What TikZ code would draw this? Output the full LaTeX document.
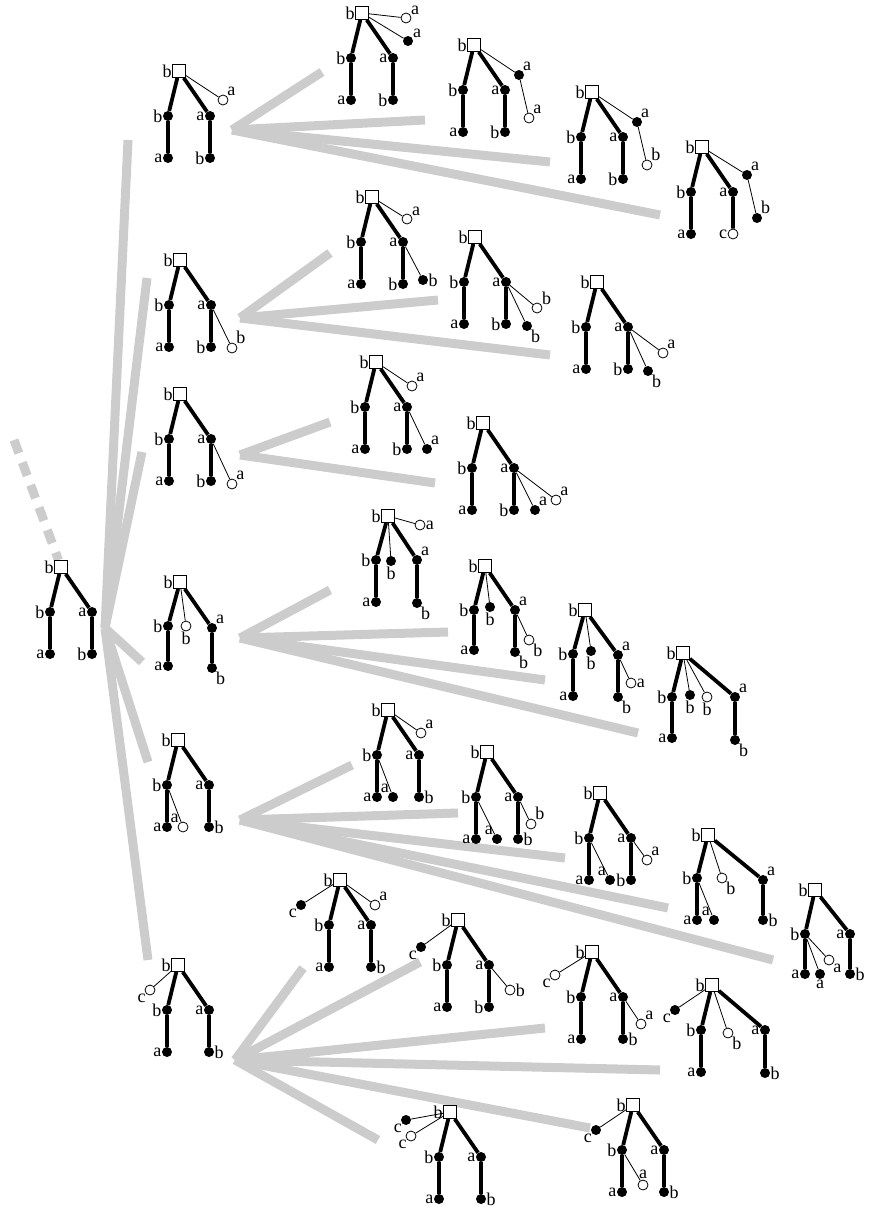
\documentclass[tikz,border=0pt]{standalone}
\usepackage{fontspec}
\setmainfont{Liberation Serif}
\usetikzlibrary{backgrounds}
\tikzset{
    sq/.style={rectangle,draw,fill=white,minimum size=13pt,inner sep=0pt,line width=0.8pt},
    fd/.style={circle,fill=black,minimum size=10pt,inner sep=0pt},
    od/.style={circle,draw,fill=white,minimum size=10pt,inner sep=0pt,line width=0.8pt},
    lb/.style={font=\fontsize{18}{18}\selectfont,inner sep=0.3pt},
    thk/.style={line width=3.8pt},
    thn/.style={line width=0.8pt},
    gr/.style={draw=gray!40,line width=9pt},
}
% square with two thick branches of two dots each
\newcommand{\stdtree}[4][left]{%
\begin{scope}[shift={(#3,#4)}]
\node[sq,label={[lb]left:b}] (#2s) at (0,0) {};
\node[fd,label={[lb]left:b}] (#2l) at (-11,45) {};
\node[fd,label={[lb]left:a}] (#2r) at (31,45) {};
\node[fd,label={[lb]left:a}] (#2ll) at (-11,87) {};
\node[fd,label={[lb]#1:b}] (#2rl) at (31,87) {};
\draw[thk] (#2s) -- (#2l) -- (#2ll) (#2s) -- (#2r) -- (#2rl);
\end{scope}}

\begin{document}
\begin{tikzpicture}[x=1pt,y=-1pt,label distance=0pt]
\useasboundingbox (0,0) rectangle (874,1207);

% root
\stdtree{r}{61}{567}
\coordinate (rup) at (14,440);
\coordinate (rout) at (105,628);

% ---- first child ----
\stdtree{p1}{179}{71}
\node[od,label={[lb]above right:a}] (p1x) at (223,100) {};
\draw[thn] (p1s) -- (p1x);
\coordinate (p1in) at (128,140);
\coordinate (p1out) at (232,130);

\stdtree{p1a}{362}{13}
\node[od,label={[lb]30:a}] (p1ax) at (406,18) {};
\node[fd,label={[lb]30:a}] (p1ay) at (408,41) {};
\draw[thn] (p1as) -- (p1ax) (p1as) -- (p1ay);
\coordinate (p1ain) at (322,72);

\stdtree{p1b}{474}{45}
\node[fd,label={[lb]above right:a}] (p1bx) at (519,75) {};
\node[od,label={[lb]above right:a}] (p1by) at (529,118) {};
\draw[thn] (p1bs) -- (p1bx) -- (p1by);
\coordinate (p1bin) at (425,120);

\stdtree{p1c}{592}{92}
\node[fd,label={[lb]above right:a}] (p1cx) at (637,122) {};
\node[od,label={[lb]above right:b}] (p1cy) at (647,165) {};
\draw[thn] (p1cs) -- (p1cx) -- (p1cy);
\coordinate (p1cin) at (550,162);

\node[sq,label={[lb]left:b}] (p1ds) at (702,147) {};
\node[fd,label={[lb]left:b}] (p1dl) at (691,192) {};
\node[fd,label={[lb]left:a}] (p1dr) at (733,192) {};
\node[fd,label={[lb]left:a}] (p1dll) at (691,234) {};
\node[od,label={[lb]left:c}] (p1drl) at (733,234) {};
\node[fd,label={[lb]above right:a}] (p1dx) at (747,175) {};
\node[fd,label={[lb]above right:b}] (p1dy) at (757,218) {};
\draw[thk] (p1ds) -- (p1dl) -- (p1dll) (p1ds) -- (p1dr) -- (p1drl);
\draw[thn] (p1ds) -- (p1dx) -- (p1dy);
\coordinate (p1din) at (660,215);

% ---- second child ----
\stdtree{p2}{180}{260}
\node[od,label={[lb]above right:b}] (p2x) at (232,348) {};
\draw[thn] (p2r) -- (p2x);
\coordinate (p2in) at (147,278);
\coordinate (p2out) at (240,318);

\stdtree{p2a}{372}{197}
\node[od,label={[lb]30:a}] (p2ax) at (407,219) {};
\node[fd,label={[lb]right:b}] (p2ay) at (423,280) {};
\draw[thn] (p2as) -- (p2ax) (p2ar) -- (p2ay);
\coordinate (p2ain) at (330,253);

\stdtree{p2b}{475}{237}
\node[od,label={[lb]30:b}] (p2bx) at (537,308) {};
\node[fd,label={[lb]below right:b}] (p2by) at (527,326) {};
\draw[thn] (p2br) -- (p2bx) (p2br) -- (p2by);
\coordinate (p2bin) at (438,300);

\stdtree{p2c}{597}{282}
\node[od,label={[lb]above right:a}] (p2cx) at (663,353) {};
\node[fd,label={[lb]below right:b}] (p2cy) at (648,371) {};
\draw[thn] (p2cr) -- (p2cx) (p2cr) -- (p2cy);
\coordinate (p2cin) at (550,355);

% ---- third child ----
\stdtree{p3}{180}{394}
\node[od,label={[lb]above right:a}] (p3x) at (232,484) {};
\draw[thn] (p3r) -- (p3x);
\coordinate (p3in) at (142,452);
\coordinate (p3out) at (240,455);

\stdtree{p3a}{376}{362}
\node[od,label={[lb]above right:a}] (p3ax) at (412,386) {};
\node[fd,label={[lb]above right:a}] (p3ay) at (427,449) {};
\draw[thn] (p3as) -- (p3ax) (p3ar) -- (p3ay);
\coordinate (p3ain) at (330,422);

\stdtree{p3b}{483}{423}
\node[fd,label={[lb]above right:a}] (p3bx) at (535,510) {};
\node[od,label={[lb]above right:a}] (p3by) at (556,500) {};
\draw[thn] (p3br) -- (p3bx) (p3br) -- (p3by);
\coordinate (p3bin) at (435,483);

% ---- fourth child ----
\node[sq,label={[lb]left:b}] (p4s) at (180,582) {};
\node[fd,label={[lb]left:b}] (p4l) at (168,626) {};
\node[od,label={[lb]below:b}] (p4m) at (186,626) {};
\node[fd,label={[lb]above right:a}] (p4r) at (212,628) {};
\node[fd,label={[lb]left:a}] (p4ll) at (168,666) {};
\node[fd,label={[lb]below right:b}] (p4rl) at (212,668) {};
\draw[thk] (p4s) -- (p4l) -- (p4ll) (p4s) -- (p4r) -- (p4rl);
\draw[thn] (p4s) -- (p4m);
\coordinate (p4in) at (142,662);
\coordinate (p4out) at (240,638);

\node[sq,label={[lb]left:b}] (p4as) at (388,516) {};
\node[fd,label={[lb]left:b}] (p4al) at (376,560) {};
\node[fd,label={[lb]below:b}] (p4am) at (391,561) {};
\node[fd,label={[lb]above right:a}] (p4ar) at (417,560) {};
\node[fd,label={[lb]left:a}] (p4all) at (376,602) {};
\node[fd,label={[lb]below right:b}] (p4arl) at (417,603) {};
\node[od,label={[lb]right:a}] (p4ax) at (420,525) {};
\draw[thk] (p4as) -- (p4al) -- (p4all) (p4as) -- (p4ar) -- (p4arl);
\draw[thn] (p4as) -- (p4am) (p4as) -- (p4ax);
\coordinate (p4ain) at (330,590);

\node[sq,label={[lb]left:b}] (p4bs) at (485,566) {};
\node[fd,label={[lb]left:b}] (p4bl) at (474,610) {};
\node[fd,label={[lb]below:b}] (p4bm) at (490,607) {};
\node[fd,label={[lb]above right:a}] (p4br) at (515,610) {};
\node[fd,label={[lb]left:a}] (p4bll) at (474,650) {};
\node[fd,label={[lb]below right:b}] (p4brl) at (515,652) {};
\node[od,label={[lb]below right:b}] (p4bx) at (529,640) {};
\draw[thk] (p4bs) -- (p4bl) -- (p4bll) (p4bs) -- (p4br) -- (p4brl);
\draw[thn] (p4bs) -- (p4bm) (p4br) -- (p4bx);
\coordinate (p4bin) at (448,632);

\node[sq,label={[lb]left:b}] (p4cs) at (585,610) {};
\node[fd,label={[lb]left:b}] (p4cl) at (573,654) {};
\node[fd,label={[lb]below:b}] (p4cm) at (591,651) {};
\node[fd,label={[lb]above right:a}] (p4cr) at (618,655) {};
\node[fd,label={[lb]left:a}] (p4cll) at (573,696) {};
\node[fd,label={[lb]below right:b}] (p4crl) at (618,697) {};
\node[od,label={[lb]right:a}] (p4cx) at (631,683) {};
\draw[thk] (p4cs) -- (p4cl) -- (p4cll) (p4cs) -- (p4cr) -- (p4crl);
\draw[thn] (p4cs) -- (p4cm) (p4cr) -- (p4cx);
\coordinate (p4cin) at (545,680);

\node[sq,label={[lb]left:b}] (p4ds) at (683,653) {};
\node[fd,label={[lb]left:b}] (p4dl) at (672,697) {};
\node[fd,label={[lb]below:b}] (p4dm) at (690,695) {};
\node[od,label={[lb]below:b}] (p4dn) at (707,697) {};
\node[fd,label={[lb]above right:a}] (p4dr) at (735,697) {};
\node[fd,label={[lb]left:a}] (p4dll) at (672,738) {};
\node[fd,label={[lb]below right:b}] (p4drl) at (735,740) {};
\draw[thk] (p4ds) -- (p4dl) -- (p4dll) (p4ds) -- (p4dr) -- (p4drl);
\draw[thn] (p4ds) -- (p4dm) (p4ds) -- (p4dn);
\coordinate (p4din) at (638,733);

% ---- fifth child ----
\stdtree[right]{p5}{178}{740}
\node[od,label={[lb]above left:a}] (p5x) at (183,827) {};
\draw[thn] (p5l) -- (p5x);
\coordinate (p5in) at (148,762);
\coordinate (p5out) at (240,820);

\stdtree[right]{p5a}{388}{710}
\node[od,label={[lb]above right:a}] (p5ax) at (421,733) {};
\node[fd,label={[lb]above left:a}] (p5ay) at (393,797) {};
\draw[thn] (p5as) -- (p5ax) (p5al) -- (p5ay);
\coordinate (p5ain) at (352,765);

\stdtree[right]{p5b}{487}{752}
\node[fd,label={[lb]above left:a}] (p5bx) at (497,839) {};
\node[od,label={[lb]above right:b}] (p5by) at (531,824) {};
\draw[thn] (p5bl) -- (p5bx) (p5br) -- (p5by);
\coordinate (p5bin) at (458,813);

\stdtree{p5c}{600}{793}
\node[fd,label={[lb]above left:a}] (p5cx) at (610,880) {};
\node[od,label={[lb]above right:a}] (p5cy) at (647,860) {};
\draw[thn] (p5cl) -- (p5cx) (p5cr) -- (p5cy);
\coordinate (p5cin) at (565,858);

\node[sq,label={[lb]left:b}] (p5ds) at (708,835) {};
\node[fd,label={[lb]left:b}] (p5dl) at (697,878) {};
\node[od,label={[lb]below right:b}] (p5dm) at (722,878) {};
\node[fd,label={[lb]above right:a}] (p5dr) at (763,880) {};
\node[fd,label={[lb]left:a}] (p5dll) at (697,920) {};
\node[fd,label={[lb]above left:a}] (p5dx) at (714,920) {};
\node[fd,label={[lb]right:b}] (p5drl) at (763,920) {};
\draw[thk] (p5ds) -- (p5dl) -- (p5dll) (p5ds) -- (p5dr) -- (p5drl);
\draw[thn] (p5ds) -- (p5dm) (p5dl) -- (p5dx);
\coordinate (p5din) at (668,908);

\node[sq,label={[lb]left:b}] (p5es) at (815,890) {};
\node[fd,label={[lb]left:b}] (p5el) at (805,934) {};
\node[fd,label={[lb]left:a}] (p5er) at (850,934) {};
\node[fd,label={[lb]left:a}] (p5ell) at (805,974) {};
\node[fd,label={[lb]below:a}] (p5ex) at (820,974) {};
\node[od,label={[lb]below right:a}] (p5ey) at (829,960) {};
\node[fd,label={[lb]right:b}] (p5erl) at (850,974) {};
\draw[thk] (p5es) -- (p5el) -- (p5ell) (p5es) -- (p5er) -- (p5erl);
\draw[thn] (p5el) -- (p5ex) (p5el) -- (p5ey);
\coordinate (p5ein) at (773,960);

% ---- sixth child ----
\stdtree[right]{p6}{178}{965}
\node[od,label={[lb]below left:c}] (p6x) at (150,990) {};
\draw[thn] (p6s) -- (p6x);
\coordinate (p6in) at (148,960);
\coordinate (p6out) at (235,1060);

\stdtree[right]{p6a}{340}{880}
\node[fd,label={[lb]below left:c}] (p6ax) at (301,905) {};
\node[od,label={[lb]above right:a}] (p6ay) at (375,905) {};
\draw[thn] (p6as) -- (p6ax) (p6as) -- (p6ay);
\coordinate (p6ain) at (303,968);

\stdtree{p6b}{458}{920}
\node[fd,label={[lb]below left:c}] (p6bx) at (421,947) {};
\node[od,label={[lb]right:b}] (p6by) at (510,990) {};
\draw[thn] (p6bs) -- (p6bx) (p6br) -- (p6by);
\coordinate (p6bin) at (420,962);

\stdtree[right]{p6c}{592}{952}
\node[od,label={[lb]below left:c}] (p6cx) at (555,975) {};
\node[od,label={[lb]above right:a}] (p6cy) at (641,1024) {};
\draw[thn] (p6cs) -- (p6cx) (p6cr) -- (p6cy);
\coordinate (p6cin) at (545,1028);

\node[sq,label={[lb]left:b}] (p6ds) at (712,985) {};
\node[fd,label={[lb]below left:c}] (p6dx) at (675,1010) {};
\node[fd,label={[lb]left:b}] (p6dl) at (701,1030) {};
\node[od,label={[lb]below right:b}] (p6dm) at (728,1033) {};
\node[fd,label={[lb]left:a}] (p6dr) at (765,1030) {};
\node[fd,label={[lb]left:a}] (p6dll) at (701,1072) {};
\node[fd,label={[lb]right:b}] (p6drl) at (765,1073) {};
\draw[thk] (p6ds) -- (p6dl) -- (p6dll) (p6ds) -- (p6dr) -- (p6drl);
\draw[thn] (p6ds) -- (p6dx) (p6ds) -- (p6dm);
\coordinate (p6din) at (660,1070);

\stdtree[right]{p6e}{450}{1112}
\node[fd,label={[lb]below left:c}] (p6ex) at (406,1120) {};
\node[od,label={[lb]below left:c}] (p6ey) at (411,1136) {};
\draw[thn] (p6es) -- (p6ex) (p6es) -- (p6ey);
\coordinate (p6ein) at (378,1140);

\stdtree[right]{p6f}{633}{1105}
\node[fd,label={[lb]below left:c}] (p6fx) at (596,1130) {};
\node[od,label={[lb]above:a}] (p6fy) at (643,1185) {};
\draw[thn] (p6fs) -- (p6fx) (p6fl) -- (p6fy);
\coordinate (p6fin) at (590,1128);

% ---- grey links ----
\begin{scope}[on background layer]
\draw[gr,dash pattern=on 14pt off 10pt] (rup) -- (rs);
\foreach \k in {p1,p2,p3,p4,p5,p6}
    \draw[gr] (rout) -- (\k in);
\foreach \k in {p1a,p1b,p1c,p1d}
    \draw[gr] (p1out) -- (\k in);
\foreach \k in {p2a,p2b,p2c}
    \draw[gr] (p2out) -- (\k in);
\foreach \k in {p3a,p3b}
    \draw[gr] (p3out) -- (\k in);
\foreach \k in {p4a,p4b,p4c,p4d}
    \draw[gr] (p4out) -- (\k in);
\foreach \k in {p5a,p5b,p5c,p5d,p5e}
    \draw[gr] (p5out) -- (\k in);
\foreach \k in {p6a,p6b,p6c,p6d,p6e,p6f}
    \draw[gr] (p6out) -- (\k in);
\end{scope}
\end{tikzpicture}
\end{document}
